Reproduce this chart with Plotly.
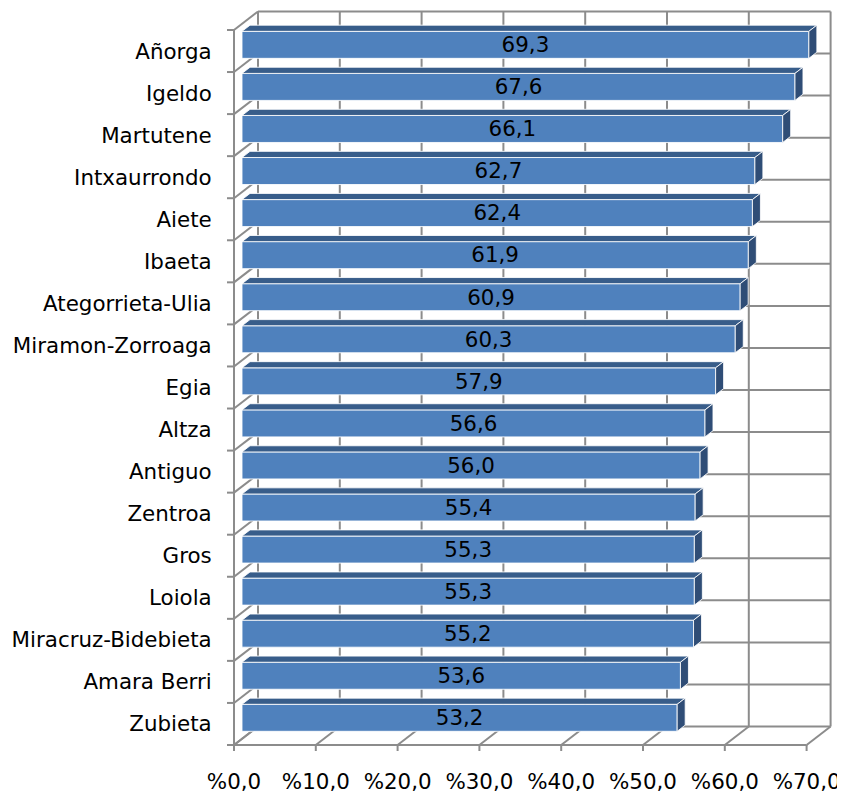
import plotly.graph_objects as go

# ---- data ----
categories = ["Añorga", "Igeldo", "Martutene", "Intxaurrondo", "Aiete", "Ibaeta",
              "Ategorrieta-Ulia", "Miramon-Zorroaga", "Egia", "Altza", "Antiguo",
              "Zentroa", "Gros", "Loiola", "Miracruz-Bidebieta", "Amara Berri", "Zubieta"]
values = [69.3, 67.6, 66.1, 62.7, 62.4, 61.9, 60.9, 60.3, 57.9, 56.6, 56.0,
          55.4, 55.3, 55.3, 55.2, 53.6, 53.2]
x_ticks = [0, 10, 20, 30, 40, 50, 60, 70]
x_tick_labels = ["%0,0", "%10,0", "%20,0", "%30,0", "%40,0", "%50,0", "%60,0", "%70,0"]

# ---- layout geometry (figure pixels; page adds an 8px body margin) ----
W, H = 845, 793
OFF = 8
KX = 8.18            # px per value unit
KY = 42.06           # px per category
X0_PX = 234 - OFF    # pixel of value 0 on the front plane
Y0_PX = 745 - OFF    # pixel of the front floor edge
PL, PR, PT, PB = 222 - OFF, 843 - OFF, 0, 753 - OFF
DX = 24 / KX         # depth offset (value units)
DY = 18.5 / KY       # depth offset (category units)
F1, F2 = 1 / 3, 2 / 3
BAR_H = 27 / KY
TICK_X = 7 / KX
TICK_Y = 6 / KY
LABEL_SHIFT = 2 / KY
FONT = "DejaVu Sans"
FS = 21.4

n = len(categories)
xr = [(PL - X0_PX) / KX, (PR - X0_PX) / KX]
yr = [-(PB - Y0_PX) / KY, (Y0_PX - PT) / KY]

GRID = "#8c8c8c"
fig = go.Figure()

def add_lines(segs, color=GRID, width=2):
    xs, ys = [], []
    for (xa, ya, xb, yb) in segs:
        xs += [xa, xb, None]
        ys += [ya, yb, None]
    fig.add_trace(go.Scatter(x=xs, y=ys, mode="lines", line=dict(color=color, width=width),
                             hoverinfo="skip", showlegend=False))

xmax = x_ticks[-1]
segs = []
# back wall verticals + floor diagonals + x tick stubs
for t in x_ticks:
    segs.append((t + DX, DY, t + DX, n + DY))
    segs.append((t, 0, t + DX, DY))
    segs.append((t, 0, t, -TICK_Y))
# back wall horizontals + left wall diagonals + y tick stubs
for k in range(n + 1):
    segs.append((DX, k + DY, xmax + DX, k + DY))
    segs.append((0, k, DX, k + DY))
    segs.append((-TICK_X, k, 0, k))
# front-left vertical and front floor edge
segs.append((0, 0, 0, n))
segs.append((0, 0, xmax, 0))
add_lines(segs)

# bars
fx, fy, tx, ty, sx, sy = [], [], [], [], [], []
lx, ly, lt = [], [], []
for j, (c, v) in enumerate(zip(categories, values)):
    i = n - 1 - j
    yc = i + 0.5
    yb, yt = yc - BAR_H / 2, yc + BAR_H / 2
    a1x, a1y = F1 * DX, F1 * DY
    a2x, a2y = F2 * DX, F2 * DY
    fx += [a1x, v + a1x, v + a1x, a1x, a1x, None]
    fy += [yb + a1y, yb + a1y, yt + a1y, yt + a1y, yb + a1y, None]
    tx += [a1x, v + a1x, v + a2x, a2x, a1x, None]
    ty += [yt + a1y, yt + a1y, yt + a2y, yt + a2y, yt + a1y, None]
    sx += [v + a1x, v + a2x, v + a2x, v + a1x, v + a1x, None]
    sy += [yb + a1y, yb + a2y, yt + a2y, yt + a1y, yb + a1y, None]
    lx.append(v / 2 + a1x)
    ly.append(yc + a1y - LABEL_SHIFT)
    lt.append(f"{v:.1f}".replace(".", ","))

for xs, ys, col in [(fx, fy, "#4f81bd"), (tx, ty, "#385d8a"), (sx, sy, "#2f4d76")]:
    fig.add_trace(go.Scatter(x=xs, y=ys, mode="lines", fill="toself", fillcolor=col,
                             line=dict(color="rgba(255,255,255,0.85)", width=1),
                             hoverinfo="skip", showlegend=False))

fig.add_trace(go.Scatter(x=lx, y=ly, mode="text", text=lt,
                         textfont=dict(family=FONT, size=FS, color="black"),
                         hoverinfo="skip", showlegend=False))

fig.update_layout(
    template="none",
    width=W, height=H,
    margin=dict(l=PL, r=W - PR, t=PT, b=H - PB, autoexpand=False),
    paper_bgcolor="white", plot_bgcolor="white",
    font=dict(family=FONT, size=FS, color="black"),
    xaxis=dict(range=xr, showgrid=False, zeroline=False, showline=False, automargin=False,
               tickvals=x_ticks, ticktext=x_tick_labels, ticks="outside",
               ticklen=9, tickcolor="rgba(0,0,0,0)", tickfont=dict(family=FONT, size=FS)),
    yaxis=dict(range=yr, showgrid=False, zeroline=False, showline=False, automargin=False,
               tickvals=[n - 1 - j + 0.5 for j in range(n)], ticktext=categories,
               ticks="outside", ticklen=5, tickcolor="rgba(0,0,0,0)",
               tickfont=dict(family=FONT, size=FS)),
)
fig.write_html("out.html")
